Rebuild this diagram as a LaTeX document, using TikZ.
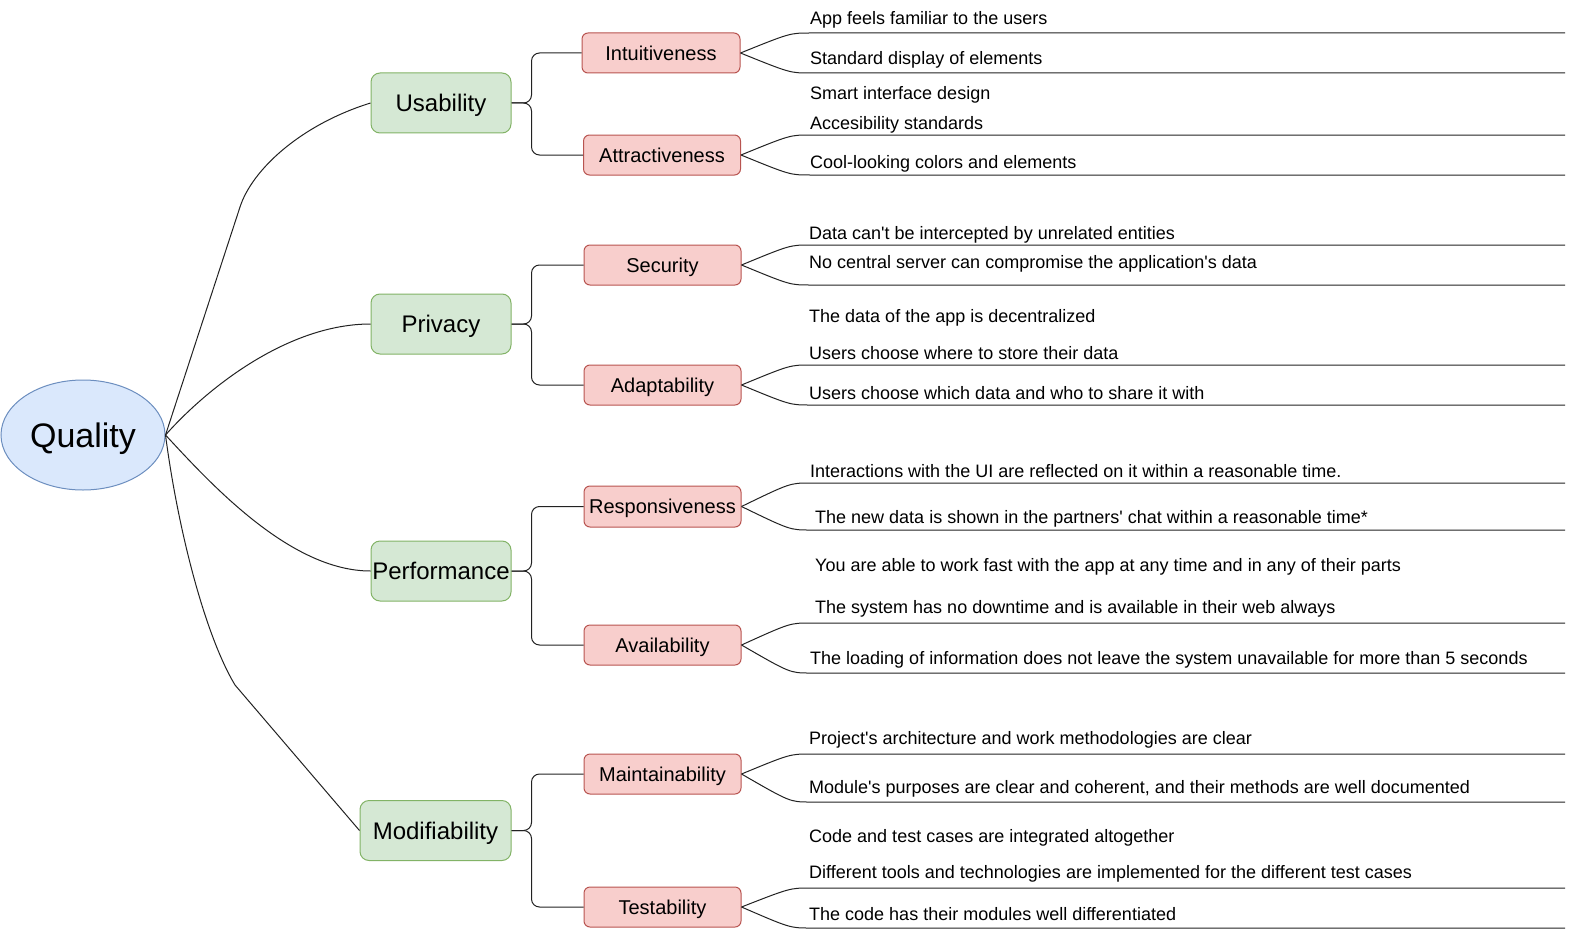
\documentclass[tikz,border=0pt]{standalone}
\usepackage{fontspec}
\setmainfont{Liberation Sans}[Ligatures=TeXOff]
\usetikzlibrary{shapes.geometric,calc}
\definecolor{bfill}{HTML}{DAE8FC}
\definecolor{bstroke}{HTML}{6C8EBF}
\definecolor{gfill}{HTML}{D5E8D4}
\definecolor{gstroke}{HTML}{82B366}
\definecolor{rfill}{HTML}{F8CECC}
\definecolor{rstroke}{HTML}{B85450}
\definecolor{edgecol}{HTML}{222222}
\begin{document}
\begin{tikzpicture}[x=1pt,y=-1pt,
  rootnode/.style={ellipse, draw=bstroke, fill=bfill, line width=1pt, minimum width=164pt, minimum height=110pt, inner sep=0pt, font=\fontsize{34}{40}\selectfont, text height=24.3pt, text depth=0pt},
  lvone/.style={rectangle, rounded corners=9pt, draw=gstroke, fill=gfill, line width=1pt, minimum width=140pt, minimum height=60pt, inner sep=0pt, font=\fontsize{24}{28}\selectfont, text height=17.2pt, text depth=0pt},
  lvtwo/.style={rectangle, rounded corners=6pt, draw=rstroke, fill=rfill, line width=1pt, minimum width=157pt, minimum height=40pt, inner sep=0pt, font=\fontsize{20}{24}\selectfont, text height=14.3pt, text depth=0pt},
  leaf/.style={anchor=base west, inner sep=0pt, font=\fontsize{18}{21}\selectfont},
  conn/.style={draw=edgecol, line width=1pt}
]
\useasboundingbox (0,0) rectangle (1573,931);

% root
\node[rootnode] (Q) at (83,435) {Quality};

% level one
\node[lvone] (U) at (441,103) {Usability};
\node[lvone] (P) at (441,324) {Privacy};
\node[lvone] (Pf) at (441,571) {Performance};
\node[lvone, minimum width=151pt] (M) at (435.5,830.5) {Modifiability};

% level two
\node[lvtwo, minimum width=158pt] (I) at (661,53) {Intuitiveness};
\node[lvtwo] (A) at (662,155) {Attractiveness};
\node[lvtwo] (S) at (662.5,265) {Security};
\node[lvtwo] (Ad) at (662.5,385) {Adaptability};
\node[lvtwo, minimum height=41pt] (R) at (662.5,506.5) {Responsiveness};
\node[lvtwo] (Av) at (662.5,645) {Availability};
\node[lvtwo] (Ma) at (662.5,774) {Maintainability};
\node[lvtwo] (T) at (662.5,907) {Testability};

% root edges
\draw[conn] (Q.east) -- (240,207) .. controls (252,170) and (300,125) .. (U.west);
\draw[conn] (Q.east) .. controls (210,385) and (290,324) .. (P.west);
\draw[conn] (Q.east) .. controls (210,483) and (290,571) .. (Pf.west);
\draw[conn] (Q.east) .. controls (178,530) and (205,635) .. (235,685) -- (M.west);

% elbow edges
\foreach \p/\c in {U/I, U/A, P/S, P/Ad, Pf/R, Pf/Av, M/Ma, M/T} {
  \draw[conn, rounded corners=8pt] (\p.east) -- ([xshift=20pt]\p.east) |- (\c.west);
}

% leaf lines
\foreach \c/\ya/\yb in {I/33/73, A/135/175, S/245/285, Ad/365/405, R/483/530, Av/623/673, Ma/754/802, T/888/928} {
  \coordinate (\c-as) at (810,\ya);
  \coordinate (\c-ae) at (1565,\ya);
  \coordinate (\c-bs) at (810,\yb);
  \coordinate (\c-be) at (1565,\yb);
  \draw[conn] (\c.east) .. controls ($(\c-as)+(-20,0)$) .. (\c-as) -- (\c-ae);
  \draw[conn] (\c.east) .. controls ($(\c-bs)+(-20,0)$) .. (\c-bs) -- (\c-be);
}

% leaf texts
\node[leaf] (t1) at (810,25) {App feels familiar to the users};
\node[leaf] (t2) at (810,65) {Standard display of elements};
\node[leaf] (t3) at (810,100) {Smart interface design};
\node[leaf] (t4) at (810,130) {Accesibility standards};
\node[leaf] (t5) at (810,168) {Cool-looking colors and elements};
\node[leaf] (t6) at (809,239) {Data can't be intercepted by unrelated entities};
\node[leaf] (t7) at (809,268) {No central server can compromise the application's data};
\node[leaf] (t8) at (809,322) {The data of the app is decentralized};
\node[leaf] (t9) at (809,359) {Users choose where to store their data};
\node[leaf] (t10) at (809,399) {Users choose which data and who to share it with};
\node[leaf] (t11) at (810,477) {Interactions with the UI are reflected on it within a reasonable time.};
\node[leaf] (t12) at (815,523) {The new data is shown in the partners' chat within a reasonable time*};
\node[leaf] (t13) at (815,571) {You are able to work fast with the app at any time and in any of their parts};
\node[leaf] (t14) at (815,613) {The system has no downtime and is available in their web always};
\node[leaf] (t15) at (810,664) {The loading of information does not leave the system unavailable for more than 5 seconds};
\node[leaf] (t16) at (809,744) {Project's architecture and work methodologies are clear};
\node[leaf] (t17) at (809,793) {Module's purposes are clear and coherent, and their methods are well documented};
\node[leaf] (t18) at (809,842) {Code and test cases are integrated altogether};
\node[leaf] (t19) at (809,878) {Different tools and technologies are implemented for the different test cases};
\node[leaf] (t20) at (809,920) {The code has their modules well differentiated};
\end{tikzpicture}
\end{document}
